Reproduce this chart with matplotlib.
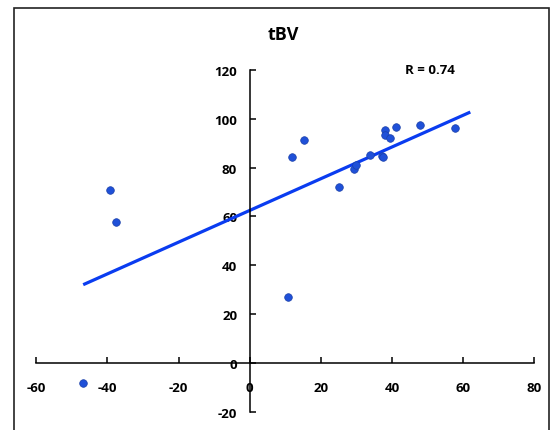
import matplotlib
matplotlib.use('Agg')
import matplotlib.pyplot as plt
from matplotlib.patches import Rectangle

# values
x_vals = [-39.4, -37.5, 11.9, 15.2, 10.9, 25.1, 29.2, 29.9, 33.9, 37.3,
          37.5, 37.9, 37.9, 39.4, 41.2, 47.8, 57.8, -46.8]
y_vals = [70.7, 57.7, 84.4, 91.3, 27.2, 72.0, 79.5, 81.0, 85.1, 84.8,
          84.2, 95.3, 93.3, 91.9, 96.7, 97.4, 96.0, -8.2]

# regression line end points
fit_x = [-46.4, 61.6]
fit_y = [32.4, 102.4]

x_ticks = [-60, -40, -20, 0, 20, 40, 60, 80]
y_ticks = [-20, 0, 20, 40, 60, 80, 100, 120]

title = "tBV"
r_label = "R = 0.74"

plt.rcParams['font.family'] = ['Liberation Sans Narrow', 'Open Sans', 'DejaVu Sans']
plt.rcParams['axes.unicode_minus'] = False

fig = plt.figure(figsize=(5.53, 4.31), dpi=100)
ax = fig.add_axes([0.0656, 0.0411, 0.9006, 0.795])

ax.plot(fit_x, fit_y, color='#0a3cf0', linewidth=2.3, zorder=2)
ax.scatter(x_vals, y_vals, s=30, color='#1f50d8', edgecolors='#1a3fa8',
           linewidths=0.5, zorder=3)

ax.set_xlim(-60, 80)
ax.set_ylim(-20, 120)
ax.set_xticks(x_ticks)
ax.set_yticks(y_ticks)

# axes cross at the origin
ax.spines['left'].set_position(('data', 0))
ax.spines['bottom'].set_position(('data', 0))
ax.spines['top'].set_visible(False)
ax.spines['right'].set_visible(False)
for s in ['left', 'bottom']:
    ax.spines[s].set_linewidth(1.1)

ax.tick_params(axis='x', direction='in', length=4, width=1.1, pad=13,
               labelsize=9.5)
ax.tick_params(axis='y', direction='in', length=4, width=1.1, pad=9,
               labelsize=9.5)
for lbl in ax.get_xticklabels() + ax.get_yticklabels():
    lbl.set_fontweight('bold')

fig.text(0.513, 1 - 35 / 431, title, ha='center', va='center',
         fontsize=13, fontweight='bold')
ax.text(430 / 553, 1 - 70 / 431, r_label, transform=fig.transFigure,
        ha='center', va='center', fontsize=9.5, fontweight='bold')

# outer frame
fig.patches.append(Rectangle((14 / 553, -0.05), 535 / 553, 1.05 - 8.5 / 431,
                             transform=fig.transFigure, fill=False,
                             edgecolor='#222222', linewidth=1.2))

plt.savefig('out.png', dpi=100)
